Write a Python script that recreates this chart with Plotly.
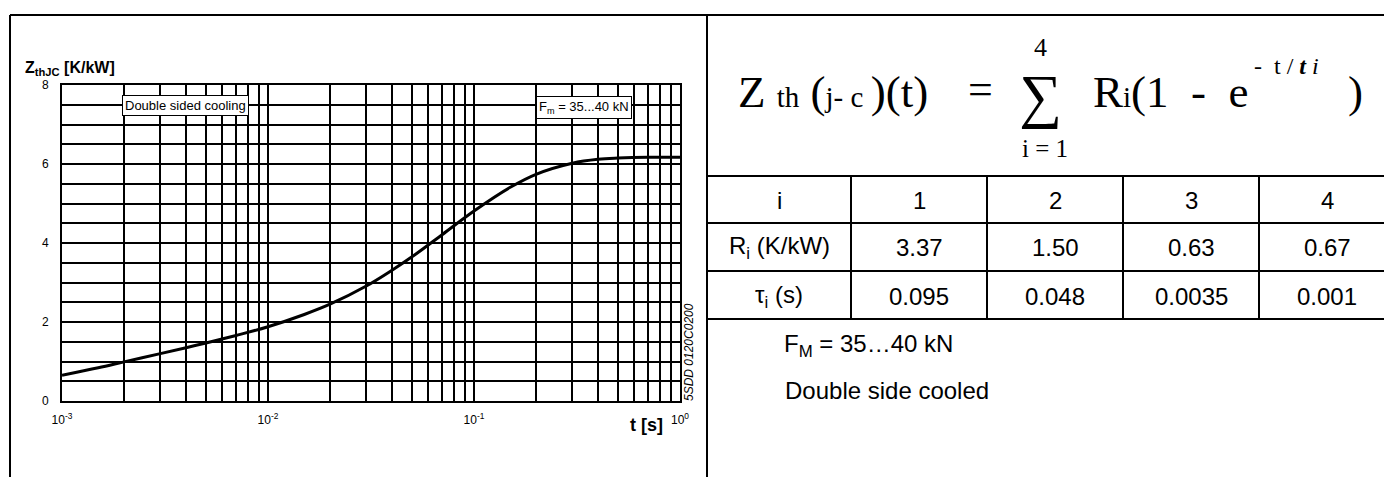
import plotly.graph_objects as go

W, H = 1384, 477

# curve (t in s, Zth in K/kW)
t_s = [0.001, 0.0015, 0.002, 0.003, 0.004, 0.005, 0.007, 0.01, 0.015, 0.02, 0.03,
       0.04, 0.05, 0.07, 0.1, 0.15, 0.2, 0.3, 0.4, 0.5, 0.7, 1.0]
zth = [0.65, 0.84, 0.99, 1.20, 1.35, 1.47, 1.66, 1.88, 2.19, 2.45, 2.91,
       3.31, 3.65, 4.21, 4.81, 5.41, 5.74, 6.02, 6.12, 6.15, 6.17, 6.17]

x_decades = [0.001, 0.01, 0.1, 1.0]
x_decade_labels = ["10<sup>-3</sup>", "10<sup>-2</sup>", "10<sup>-1</sup>", "10<sup>0</sup>"]
y_ticks = [0, 2, 4, 6, 8]
y_tick_labels = ["0", "2", "4", "6", "8"]

# table on the right
table_index = ["i", "1", "2", "3", "4"]
row_labels = ["R<sub>i</sub> (K/kW)", "τ<sub>i</sub> (s)"]
r_values = ["3.37", "1.50", "0.63", "0.67"]
tau_values = ["0.095", "0.048", "0.0035", "0.001"]

SANS = "Arial, Liberation Sans, sans-serif"
SERIF = "Times New Roman, Liberation Serif, serif"


def px(x):
    return x / W


def py(y):
    return 1 - y / H


# log grid: 1..9 in every decade
x_grid, x_text = [], []
for d, lab in zip(x_decades[:-1], x_decade_labels[:-1]):
    for m in range(1, 10):
        x_grid.append(d * m)
        x_text.append(lab if m == 1 else "")
x_grid.append(x_decades[-1])
x_text.append(x_decade_labels[-1])

y_grid = [v / 2 for v in range(0, 17)]
y_text = [y_tick_labels[y_ticks.index(v)] if v in y_ticks else "" for v in y_grid]

fig = go.Figure()

fig.add_trace(go.Scatter(x=t_s, y=zth, mode="lines", line=dict(color="black", width=3, shape="spline"),
                         showlegend=False, hoverinfo="skip"))

fig.update_xaxes(type="log", range=[-3, 0], domain=[px(62), px(680)],
                 tickmode="array", tickvals=x_grid, ticktext=x_text, ticks="",
                 ticklabelstandoff=7, tickfont=dict(family=SANS, size=12, color="black"),
                 showgrid=True, gridcolor="black", gridwidth=1.5,
                 showline=True, linecolor="black", linewidth=2, mirror=True,
                 zeroline=False, automargin=False)
fig.update_yaxes(range=[0, 8], domain=[py(401), py(85)],
                 tickmode="array", tickvals=y_grid, ticktext=y_text, ticks="",
                 ticklabelstandoff=9, tickfont=dict(family=SANS, size=12, color="black"),
                 showgrid=True, gridcolor="black", gridwidth=1.5,
                 showline=True, linecolor="black", linewidth=2, mirror=True,
                 zeroline=False, automargin=False)

ann = []


def note(text, x, y, size, xanchor="center", family=SANS, **kw):
    ann.append(dict(text=text, x=px(x), y=py(y), xref="paper", yref="paper", showarrow=False,
                    xanchor=xanchor, yanchor="middle",
                    font=dict(family=family, size=size, color="black"), **kw))


# left chart labels
note("<b>Z<sub>thJC</sub> [K/kW]</b>", 23, 69, 16, xanchor="left")
note("<b>t [s]</b>", 646, 425, 18)
note("Double sided cooling", 122, 105.5, 13, xanchor="left",
     bordercolor="black", borderwidth=1, borderpad=2, bgcolor="white")
note("F<sub>m</sub> = 35...40 kN", 536, 107, 13, xanchor="left",
     bordercolor="black", borderwidth=1, borderpad=2, bgcolor="white")
note("<i>5SDD 0120C0200</i>", 689, 352, 12, textangle=-90)

# formula
small = '<span style="font-size:29px">'
note("Z " + small + "th</span> (" + small + "j-\u00a0c\u00a0</span>)(t)", 736, 92, 45,
     xanchor="left", family=SERIF)
note("=", 980, 90, 44, family=SERIF)
note("∑", 1040, 96, 60, family=SERIF)
note("4", 1040, 47, 26, family=SERIF)
note("i = 1", 1045, 148, 25, family=SERIF)
note("R" + small + "i</span>(1\u00a0\u00a0-\u00a0\u00a0e", 1091, 92, 45, xanchor="left", family=SERIF)
note("-\u00a0\u00a0t\u00a0/\u00a0<b><i>t</i></b><i>\u00a0i</i>", 1252, 66, 24, xanchor="left", family=SERIF)
note(")", 1346, 92, 45, xanchor="left", family=SERIF)

# table: borders and cell texts
col_edges = [707, 851, 987, 1123, 1259, 1395]
row_edges = [176, 223, 271, 319]
col_mid = [(a + b) / 2 for a, b in zip(col_edges[:-1], col_edges[1:])]
row_mid = [(a + b) / 2 for a, b in zip(row_edges[:-1], row_edges[1:])]
table_rows = [table_index,
              [row_labels[0]] + r_values,
              [row_labels[1]] + tau_values]
for r, row in enumerate(table_rows):
    for c, txt in enumerate(row):
        note(txt, col_mid[c], row_mid[r] + 1, 24)

# notes under the table
note("F<sub>M</sub> = 35…40 kN", 782, 345, 24, xanchor="left")
note("Double side cooled", 783, 390, 24, xanchor="left")

frame = dict(type="line", xref="paper", yref="paper", line=dict(color="black", width=2))
shapes = [
    dict(frame, x0=px(10), x1=1, y0=py(15), y1=py(15)),
    dict(frame, x0=px(10), x1=px(10), y0=py(15), y1=0),
    dict(frame, x0=px(707), x1=px(707), y0=py(15), y1=0),
]
for y in row_edges:
    shapes.append(dict(frame, x0=px(707), x1=1, y0=py(y), y1=py(y)))
for x in col_edges[1:-1]:
    shapes.append(dict(frame, x0=px(x), x1=px(x), y0=py(row_edges[0]), y1=py(row_edges[-1])))

fig.update_layout(template="none", width=W, height=H, margin=dict(l=0, r=0, t=0, b=0),
                  paper_bgcolor="white", plot_bgcolor="white", showlegend=False,
                  annotations=ann, shapes=shapes)

fig.write_html("out.html", config={"displayModeBar": False},
               post_script="document.body.style.margin='0';")
